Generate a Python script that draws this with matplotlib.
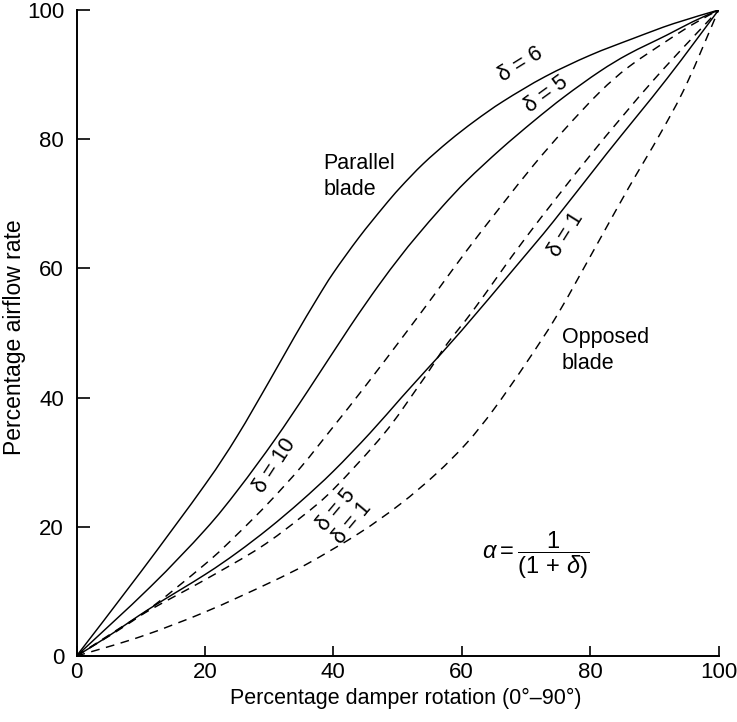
import matplotlib
matplotlib.use('Agg')
import numpy as np
import matplotlib.pyplot as plt
from matplotlib.path import Path
from matplotlib.patches import PathPatch

plt.rcParams['font.family'] = ['Liberation Sans', 'DejaVu Sans']
plt.rcParams['mathtext.fontset'] = 'custom'
plt.rcParams['mathtext.rm'] = 'Liberation Sans'
plt.rcParams['mathtext.it'] = 'Liberation Sans:italic'

# parallel blade (solid)
par_d6_x = [0, 10, 20, 25, 30, 34, 37.4, 40, 44, 47.8, 50.4, 54, 58, 62, 66.5, 73, 80, 86.7, 93, 100]
par_d6_y = [0, 13, 26.5, 34, 42.5, 49.5, 55.2, 59.3, 64.8, 69.5, 72.5, 76.2, 79.7, 82.8, 85.9, 89.7, 93, 95.6, 97.9, 100]
par_d5_x = [0, 11.5, 20, 25.2, 30.9, 36, 42.6, 47, 50.4, 53, 57, 60.8, 66, 71.2, 76, 81.5, 86, 91.9, 96, 100]
par_d5_y = [0, 10.7, 19.5, 25.8, 33.5, 41, 51, 57.3, 61.8, 65, 69.6, 73.6, 78.4, 82.8, 86.6, 90.5, 93.2, 96.1, 98.2, 100]
par_d1_x = [0, 5, 11.5, 20, 25, 30, 35, 40, 45.7, 50.6, 54.5, 60, 68.6, 74.3, 82.6, 91.9, 100]
par_d1_y = [0, 3.1, 7.4, 12.6, 16, 19.8, 24, 28.6, 34.5, 40, 44.3, 50.4, 60.5, 67.3, 77.8, 89.3, 100]

# opposed blade (dashed)
opp_d10_x = [0, 10, 20, 25, 30, 35, 40, 45, 51.5, 56, 60.8, 66, 71.2, 76, 81.5, 86, 91.9, 96, 100]
opp_d10_y = [0, 6.3, 14.2, 18.8, 23.8, 29.3, 35.5, 41.8, 50.3, 56.3, 62.8, 69.5, 76, 81.5, 87.3, 91.2, 95.2, 97.8, 100]
opp_d5_x = [0, 10, 20, 28.6, 35, 40, 47.8, 53, 55, 57.7, 62, 70, 80, 90, 100]
opp_d5_y = [0, 6.3, 11.8, 16.8, 21.5, 25.8, 34.3, 41.4, 44.3, 48.3, 53.8, 64.8, 77.5, 89.3, 100]
opp_d1_x = [0, 10, 20, 30, 36, 44, 50.4, 56, 60.8, 65, 70, 75, 81.5, 86, 91, 95, 100]
opp_d1_y = [0, 3, 6.8, 11.3, 14.3, 19, 23.5, 28.2, 33, 38.2, 45.3, 53, 64.5, 72.5, 81, 88.5, 100]

ticks = [0, 20, 40, 60, 80, 100]


def smooth_path(xs, ys):
    # Catmull-Rom through the read points, drawn as cubic Bezier segments
    pts = np.column_stack([xs, ys]).astype(float)
    pad = np.vstack([pts[0], pts, pts[-1]])
    verts = [pts[0]]
    codes = [Path.MOVETO]
    for i in range(len(pts) - 1):
        p0, p1, p2, p3 = pad[i], pad[i + 1], pad[i + 2], pad[i + 3]
        verts += [p1 + (p2 - p0) / 6, p2 - (p3 - p1) / 6, p2]
        codes += [Path.CURVE4] * 3
    return Path(verts, codes)


fig = plt.figure(figsize=(7.37, 7.22), dpi=100)
ax = fig.add_axes([0.1038, 0.0914, 0.8712, 0.8947])

lw = 1.05
for xs, ys in [(par_d6_x, par_d6_y), (par_d5_x, par_d5_y), (par_d1_x, par_d1_y)]:
    ax.add_patch(PathPatch(smooth_path(xs, ys), fill=False, edgecolor='black', lw=lw))
for xs, ys in [(opp_d10_x, opp_d10_y), (opp_d5_x, opp_d5_y), (opp_d1_x, opp_d1_y)]:
    ax.add_patch(PathPatch(smooth_path(xs, ys), fill=False, edgecolor='black', lw=lw,
                           linestyle=(0, (6, 4.5)), capstyle='butt'))

ax.set_xlim(0, 100)
ax.set_ylim(0, 100)
ax.set_xticks(ticks)
ax.set_yticks(ticks)
ax.tick_params(direction='in', width=1.2, labelsize=16, pad=9)
ax.tick_params(axis='y', length=9.5)
ax.tick_params(axis='x', length=7.5, pad=4)
ax.spines['top'].set_visible(False)
ax.spines['right'].set_visible(False)
for s in ['left', 'bottom']:
    ax.spines[s].set_linewidth(1.4)

ax.set_xlabel('Percentage damper rotation (0°–90°)', fontsize=15.5)
ax.xaxis.set_label_coords(0.5125, -0.049)
ax.set_ylabel('Percentage airflow rate', fontsize=16.5)
ax.yaxis.set_label_coords(-0.079, 0.494)

fs = 15.5
ax.text(69.1, 91.6, 'δ = 6', fontsize=fs, rotation=32, ha='center', va='center')
ax.text(73.1, 87.0, 'δ = 5', fontsize=fs, rotation=36, ha='center', va='center')
ax.text(30.9, 29.4, 'δ = 10', fontsize=fs, rotation=57, ha='center', va='center')
ax.text(76.2, 65.2, 'δ = 1', fontsize=fs, rotation=58, ha='center', va='center')
ax.text(40.5, 22.6, 'δ = 5', fontsize=fs, rotation=50, ha='center', va='center')
ax.text(42.9, 20.6, 'δ = 1', fontsize=fs, rotation=50, ha='center', va='center')

ax.text(38.5, 77.8, 'Parallel\nblade', fontsize=fs, ha='left', va='top', linespacing=1.3)
ax.text(75.6, 50.9, 'Opposed\nblade', fontsize=fs, ha='left', va='top', linespacing=1.3)
ax.text(63.2, 15.6, r'$\alpha = \dfrac{1}{(1\,+\,\delta)}$', fontsize=17, ha='left', va='center')

fig.savefig('out.png', dpi=100, facecolor='white')
